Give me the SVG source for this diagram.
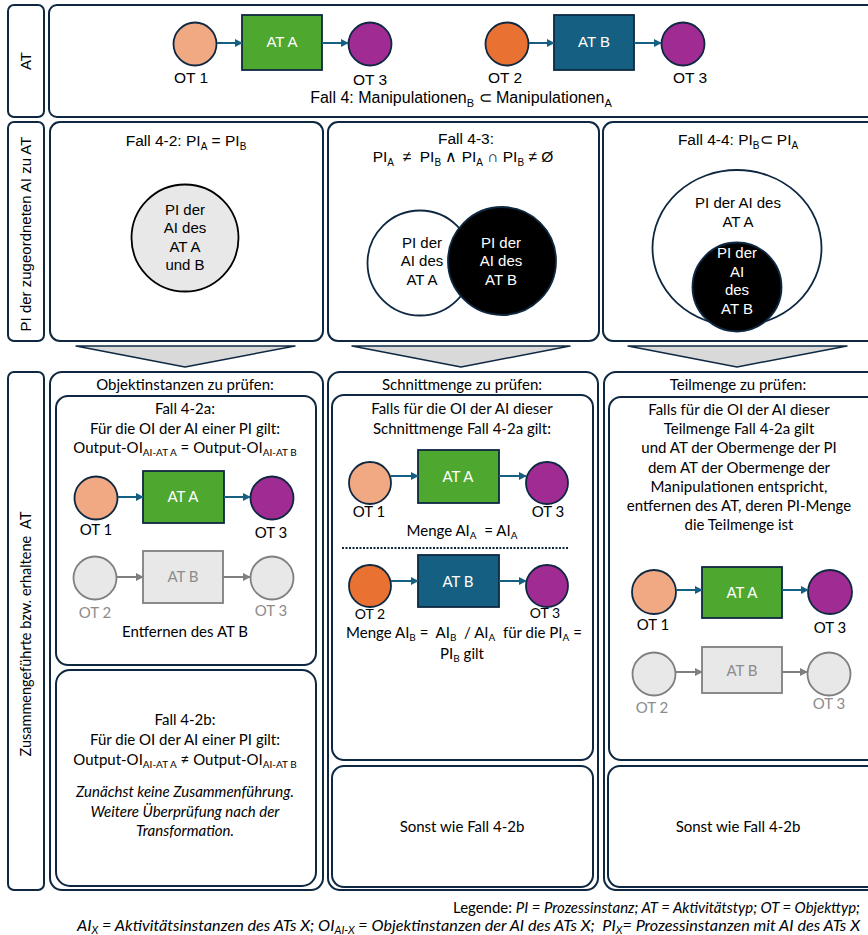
<svg xmlns="http://www.w3.org/2000/svg" width="868" height="935" viewBox="0 0 868 935">
<style>
.frame{fill:#fff;stroke:#0e2841;stroke-width:2}
.ar{font-family:"Liberation Sans",Arial,sans-serif;fill:#000}
.ca{font-family:Lato,"Open Sans",sans-serif;fill:#000}
.c{text-anchor:middle}
.w{fill:#fff}
.g{fill:#8c8c8c}
.ot{stroke:#0e2841;stroke-width:1.8}
.gc{fill:#e8e8e8;stroke:#7f7f7f;stroke-width:1.8}
.con{stroke:#156082;stroke-width:2;fill:none;marker-end:url(#ah)}
.cong{stroke:#7f7f7f;stroke-width:2;fill:none;marker-end:url(#ahg)}
.chev{fill:#d9d9d9;stroke:#0e2841;stroke-width:1.5;stroke-linejoin:round}
</style>
<defs>
<marker id="ah" viewBox="0 0 10 10" refX="9" refY="5" markerWidth="4" markerHeight="4" orient="auto" markerUnits="strokeWidth"><path d="M0,0 L10,5 L0,10 z" fill="#156082"/></marker>
<marker id="ahg" viewBox="0 0 10 10" refX="9" refY="5" markerWidth="4" markerHeight="4" orient="auto" markerUnits="strokeWidth"><path d="M0,0 L10,5 L0,10 z" fill="#7f7f7f"/></marker>
</defs>
<rect width="868" height="935" fill="#fff"/>

<!-- Row 1 -->
<g id="label-at">
<rect class="frame" x="8" y="5" width="36" height="112" rx="6"/>
<text class="ar c" font-size="15" transform="translate(31,61) rotate(-90)">AT</text>
</g>
<g id="row-at">
<rect class="frame" x="49" y="5" width="830" height="112" rx="8"/>
<text class="ar c" font-size="16" x="461" y="103">Fall 4: Manipulationen<tspan font-size="11" dy="4">B</tspan><tspan dy="-4"> ⊂ Manipulationen</tspan><tspan font-size="11" dy="4">A</tspan></text>
</g>
<g id="top-ot1"><circle class="ot" cx="195" cy="44" r="21.5" fill="#f1a983"/><text class="ar c" font-size="15.5" x="191" y="83">OT 1</text></g>
<g id="top-ata"><rect class="ot" x="242" y="15" width="80" height="55" fill="#4ea72e"/><text class="ar c w" font-size="15" x="282" y="47">AT A</text></g>
<g id="top-ot3a"><circle class="ot" cx="370" cy="44" r="21.5" fill="#a02b93"/><text class="ar c" font-size="15.5" x="370" y="85">OT 3</text></g>
<g id="top-ot2"><circle class="ot" cx="507" cy="44" r="21.5" fill="#e97132"/><text class="ar c" font-size="15.5" x="505" y="83">OT 2</text></g>
<g id="top-atb"><rect class="ot" x="554" y="15" width="80" height="55" fill="#156082"/><text class="ar c w" font-size="15" x="594" y="47">AT B</text></g>
<g id="top-ot3b"><circle class="ot" cx="683" cy="44" r="21.5" fill="#a02b93"/><text class="ar c" font-size="15.5" x="690" y="83">OT 3</text></g>

<!-- Row 2 -->
<g id="label-pi">
<rect class="frame" x="8" y="122" width="36" height="219" rx="6"/>
<text class="ar c" font-size="15" transform="translate(31,234) rotate(-90)">PI der zugeordneten AI zu AT</text>
</g>
<g id="fall-4-2">
<rect class="frame" x="50" y="122" width="273" height="219" rx="10"/>
<text class="ar c" font-size="15.5" x="186" y="146">Fall 4-2: PI<tspan font-size="10" dy="4">A</tspan><tspan dy="-4"> = PI</tspan><tspan font-size="10" dy="4">B</tspan></text>
<circle cx="185" cy="238" r="53.5" fill="#e8e8e8" stroke="#000" stroke-width="1.8"/>
<text class="ar c" font-size="15" x="185" y="215">PI der</text>
<text class="ar c" font-size="15" x="185" y="233">AI des</text>
<text class="ar c" font-size="15" x="185" y="252">AT A</text>
<text class="ar c" font-size="15" x="185" y="270">und B</text>
</g>
<g id="fall-4-3">
<rect class="frame" x="328" y="122" width="271" height="219" rx="10"/>
<text class="ar c" font-size="15.5" x="466" y="144">Fall 4-3:</text>
<text class="ar c" font-size="15.5" x="463" y="162" xml:space="preserve">PI<tspan font-size="10" dy="4">A</tspan><tspan dy="-4">  ≠  PI</tspan><tspan font-size="10" dy="4">B</tspan><tspan dy="-4"> ∧ PI</tspan><tspan font-size="10" dy="4">A</tspan><tspan dy="-4"> ∩ PI</tspan><tspan font-size="10" dy="4">B</tspan><tspan dy="-4"> ≠ Ø</tspan></text>
<circle cx="420" cy="263" r="52.5" fill="#fff" stroke="#0e2841" stroke-width="1.8"/>
<circle cx="502" cy="261" r="54" fill="#000" stroke="#0e2841" stroke-width="1.8"/>
<text class="ar c" font-size="15" x="422" y="248">PI der</text>
<text class="ar c" font-size="15" x="422" y="266">AI des</text>
<text class="ar c" font-size="15" x="422" y="285">AT A</text>
<text class="ar c w" font-size="15" x="501" y="248">PI der</text>
<text class="ar c w" font-size="15" x="501" y="266">AI des</text>
<text class="ar c w" font-size="15" x="501" y="285">AT B</text>
</g>
<g id="fall-4-4">
<rect class="frame" x="603" y="122" width="276" height="219" rx="10"/>
<text class="ar c" font-size="15.5" x="738" y="145">Fall 4-4: PI<tspan font-size="10" dy="4">B</tspan><tspan dy="-4">⊂ PI</tspan><tspan font-size="10" dy="4">A</tspan></text>
<ellipse cx="737" cy="248" rx="84.5" ry="78" fill="#fff" stroke="#0e2841" stroke-width="1.8"/>
<circle cx="737" cy="287" r="44.5" fill="#000" stroke="#0e2841" stroke-width="1.8"/>
<text class="ar c" font-size="15" x="738" y="208">PI der AI des</text>
<text class="ar c" font-size="15" x="738" y="227">AT A</text>
<text class="ar c w" font-size="15" x="737" y="258">PI der</text>
<text class="ar c w" font-size="15" x="737" y="277">AI</text>
<text class="ar c w" font-size="15" x="737" y="295">des</text>
<text class="ar c w" font-size="15" x="737" y="314">AT B</text>
</g>

<!-- Row 3 -->
<g id="label-zus">
<rect class="frame" x="8" y="372" width="36" height="518" rx="6"/>
<text class="ca c" font-size="14.5" transform="translate(31,634) rotate(-90)" xml:space="preserve">Zusammengeführte bzw. erhaltene  AT</text>
</g>

<g id="col-objektinstanzen">
<rect class="frame" x="50" y="372" width="273" height="518" rx="12"/>
<text class="ca c" font-size="15" x="185" y="390">Objektinstanzen zu prüfen:</text>
</g>
<g id="fall-4-2a">
<rect class="frame" x="56" y="396" width="260" height="269" rx="12"/>
<text class="ca c" font-size="15" x="185" y="414">Fall 4-2a:</text>
<text class="ca c" font-size="15" x="185" y="434">Für die OI der AI einer PI gilt:</text>
<text class="ca c" font-size="15" x="185" y="453">Output-OI<tspan font-size="10" dy="3">AI-AT A</tspan><tspan dy="-3"> = Output-OI</tspan><tspan font-size="10" dy="3">AI-AT B</tspan></text>
<text class="ca c" font-size="15" x="185" y="637">Entfernen des AT B</text>
</g>
<g id="a-ot1"><circle class="ot" cx="96" cy="498" r="21.5" fill="#f1a983"/><text class="ca c" font-size="15" x="96" y="535">OT 1</text></g>
<g id="a-ata"><rect class="ot" x="143" y="471" width="81" height="52" fill="#4ea72e"/><text class="ca c w" font-size="15" x="183" y="502">AT A</text></g>
<g id="a-ot3"><circle class="ot" cx="272" cy="498" r="21.5" fill="#a02b93"/><text class="ca c" font-size="15" x="271" y="538">OT 3</text></g>
<g id="a-ot2"><circle class="gc" cx="95" cy="578" r="21.5"/><text class="ca c g" font-size="15" x="95" y="618">OT 2</text></g>
<g id="a-atb"><rect class="gc" x="143" y="551" width="80" height="52"/><text class="ca c g" font-size="15" x="183" y="582">AT B</text></g>
<g id="a-ot3g"><circle class="gc" cx="272" cy="578" r="21.5"/><text class="ca c g" font-size="15" x="271" y="616">OT 3</text></g>

<g id="fall-4-2b">
<rect class="frame" x="56" y="670" width="260" height="216" rx="14"/>
<text class="ca c" font-size="15" x="185" y="725">Fall 4-2b:</text>
<text class="ca c" font-size="15" x="185" y="745">Für die OI der AI einer PI gilt:</text>
<text class="ca c" font-size="15" x="185" y="765">Output-OI<tspan font-size="10" dy="3">AI-AT A</tspan><tspan dy="-3"> ≠ Output-OI</tspan><tspan font-size="10" dy="3">AI-AT B</tspan></text>
<text class="ca c" font-size="15" font-style="italic" x="185" y="797">Zunächst keine Zusammenführung.</text>
<text class="ca c" font-size="15" font-style="italic" x="185" y="817">Weitere Überprüfung nach der</text>
<text class="ca c" font-size="15" font-style="italic" x="185" y="836">Transformation.</text>
</g>

<g id="col-schnittmenge">
<rect class="frame" x="328" y="372" width="270" height="518" rx="12"/>
<text class="ca c" font-size="15" x="462" y="390">Schnittmenge zu prüfen:</text>
</g>
<g id="fall-4-3a">
<rect class="frame" x="332" y="395" width="261" height="365" rx="12"/>
<text class="ca c" font-size="15" x="462" y="414">Falls für die OI der AI dieser</text>
<text class="ca c" font-size="15" x="462" y="434">Schnittmenge Fall 4-2a gilt:</text>
<text class="ca c" font-size="15" x="462" y="536" xml:space="preserve">Menge AI<tspan font-size="10" dy="3">A</tspan><tspan dy="-3">  = AI</tspan><tspan font-size="10" dy="3">A</tspan></text>
<line x1="342" y1="548" x2="568" y2="548" stroke="#0e2841" stroke-width="2" stroke-dasharray="2 1.5"/>
<text class="ca c" font-size="15" x="464" y="638" xml:space="preserve">Menge AI<tspan font-size="10" dy="3">B</tspan><tspan dy="-3"> =  AI</tspan><tspan font-size="10" dy="3">B</tspan><tspan dy="-3">  / AI</tspan><tspan font-size="10" dy="3">A</tspan><tspan dy="-3">  für die PI</tspan><tspan font-size="10" dy="3">A</tspan><tspan dy="-3"> =</tspan></text>
<text class="ca c" font-size="15" x="462" y="659">PI<tspan font-size="10" dy="3">B</tspan><tspan dy="-3"> gilt</tspan></text>
</g>
<g id="b-ot1"><circle class="ot" cx="370" cy="483" r="21" fill="#f1a983"/><text class="ca c" font-size="15" x="369" y="517">OT 1</text></g>
<g id="b-ata"><rect class="ot" x="418" y="450" width="81" height="53" fill="#4ea72e"/><text class="ca c w" font-size="15" x="458" y="482">AT A</text></g>
<g id="b-ot3"><circle class="ot" cx="547" cy="483" r="21" fill="#a02b93"/><text class="ca c" font-size="15" x="548" y="517">OT 3</text></g>
<g id="b-ot2"><circle class="ot" cx="370" cy="586" r="21" fill="#e97132"/><text class="ca c" font-size="14" x="370" y="619">OT 2</text></g>
<g id="b-atb"><rect class="ot" x="418" y="555" width="81" height="52" fill="#156082"/><text class="ca c w" font-size="15" x="458" y="587">AT B</text></g>
<g id="b-ot3b"><circle class="ot" cx="547" cy="586" r="21" fill="#a02b93"/><text class="ca c" font-size="14" x="545" y="618">OT 3</text></g>
<g id="fall-4-3b">
<rect class="frame" x="332" y="766" width="261" height="121" rx="12"/>
<text class="ca c" font-size="15" x="462" y="832">Sonst wie Fall 4-2b</text>
</g>

<g id="col-teilmenge">
<rect class="frame" x="604" y="372" width="275" height="518" rx="12"/>
<text class="ca c" font-size="15" x="738" y="390">Teilmenge zu prüfen:</text>
</g>
<g id="fall-4-4a">
<rect class="frame" x="609" y="397" width="270" height="363" rx="12"/>
<text class="ca c" font-size="15" x="739" y="415">Falls für die OI der AI dieser</text>
<text class="ca c" font-size="15" x="739" y="434">Teilmenge Fall 4-2a gilt</text>
<text class="ca c" font-size="15" x="739" y="453">und AT der Obermenge der PI</text>
<text class="ca c" font-size="15" x="739" y="473">dem AT der Obermenge der</text>
<text class="ca c" font-size="15" x="739" y="492">Manipulationen entspricht,</text>
<text class="ca c" font-size="15" x="739" y="511">entfernen des AT, deren PI-Menge</text>
<text class="ca c" font-size="15" x="739" y="530">die Teilmenge ist</text>
</g>
<g id="c-ot1"><circle class="ot" cx="654" cy="592" r="22" fill="#f1a983"/><text class="ca c" font-size="15" x="653" y="630">OT 1</text></g>
<g id="c-ata"><rect class="ot" x="702" y="567" width="80" height="51" fill="#4ea72e"/><text class="ca c w" font-size="15" x="742" y="598">AT A</text></g>
<g id="c-ot3"><circle class="ot" cx="830" cy="592" r="22" fill="#a02b93"/><text class="ca c" font-size="15" x="830" y="633">OT 3</text></g>
<g id="c-ot2"><circle class="gc" cx="654" cy="674" r="21.5"/><text class="ca c g" font-size="15" x="652" y="713">OT 2</text></g>
<g id="c-atb"><rect class="gc" x="702" y="647" width="80" height="46"/><text class="ca c g" font-size="15" x="742" y="676">AT B</text></g>
<g id="c-ot3g"><circle class="gc" cx="829" cy="674" r="21.5"/><text class="ca c g" font-size="15" x="829" y="709">OT 3</text></g>
<g id="fall-4-4b">
<rect class="frame" x="608" y="766" width="271" height="121" rx="12"/>
<text class="ca c" font-size="15" x="738" y="832">Sonst wie Fall 4-2b</text>
</g>

<!-- Connectors -->
<g id="connectors">
<line class="con" x1="217" y1="43" x2="242" y2="43"/>
<line class="con" x1="322" y1="43" x2="348" y2="43"/>
<line class="con" x1="529" y1="43" x2="554" y2="43"/>
<line class="con" x1="634" y1="43" x2="661" y2="43"/>
<line class="con" x1="118" y1="497" x2="143" y2="497"/>
<line class="con" x1="224" y1="497" x2="250" y2="497"/>
<line class="cong" x1="117" y1="577" x2="143" y2="577"/>
<line class="cong" x1="223" y1="577" x2="250" y2="577"/>
<line class="con" x1="391" y1="476" x2="418" y2="476"/>
<line class="con" x1="499" y1="476" x2="526" y2="476"/>
<line class="con" x1="391" y1="581" x2="418" y2="581"/>
<line class="con" x1="499" y1="581" x2="526" y2="581"/>
<line class="con" x1="676" y1="590" x2="702" y2="590"/>
<line class="con" x1="782" y1="590" x2="808" y2="590"/>
<line class="cong" x1="676" y1="672" x2="702" y2="672"/>
<line class="cong" x1="782" y1="672" x2="807" y2="672"/>
<polygon class="chev" points="76,346 295,346 185,367"/>
<polygon class="chev" points="352,346 570,346 461,367"/>
<polygon class="chev" points="628,346 847,346 737,367"/>
</g>

<!-- Legend -->
<g id="legend">
<text class="ca" font-size="15" text-anchor="end" x="860" y="913" textLength="407" lengthAdjust="spacingAndGlyphs">Legende: <tspan font-style="italic">PI = Prozessinstanz; AT = Aktivitätstyp; OT = Objekttyp;</tspan></text>
<text class="ca" font-size="15.5" font-style="italic" text-anchor="end" x="860" y="931" textLength="783" lengthAdjust="spacingAndGlyphs" xml:space="preserve">AI<tspan font-size="10.5" dy="3">X</tspan><tspan dy="-3"> = Aktivitätsinstanzen des ATs X; OI</tspan><tspan font-size="10.5" dy="3">AI-X</tspan><tspan dy="-3"> = Objektinstanzen der AI des ATs X;  PI</tspan><tspan font-size="10.5" dy="3">X</tspan><tspan dy="-3">= Prozessinstanzen mit AI des ATs X</tspan></text>
</g>
</svg>
